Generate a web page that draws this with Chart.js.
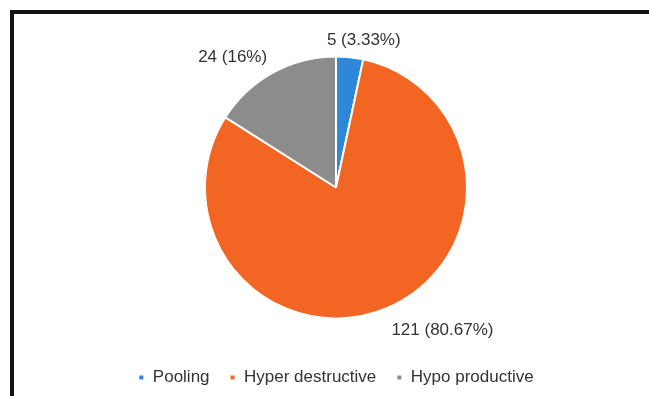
<!DOCTYPE html>
<html>
<head>
<meta charset="utf-8">
<script src="https://cdn.jsdelivr.net/npm/chart.js@4/dist/chart.umd.min.js"></script>
<style>
  html, body { margin: 0; padding: 0; background: #fff; }
  body { width: 649px; height: 396px; position: relative; overflow: hidden; }
  #frame {
    position: absolute; left: 10px; top: 10px; right: -10px; bottom: -10px;
    border-top: 4px solid #141414; border-left: 4px solid #141414;
  }
  #wrap { position: absolute; left: 14px; top: 14px; width: 635px; height: 382px; }
</style>
</head>
<body>
<div id="frame"></div>
<div id="wrap"><canvas id="pie"></canvas></div>
<script>
const categories = ['Pooling', 'Hyper destructive', 'Hypo productive'];
const counts = [5, 121, 24];
const colors = ['#2e88d8', '#f26522', '#8c8c8c'];

const total = counts.reduce((a, b) => a + b, 0);
const pct = (v) => +(v / total * 100).toFixed(2);

// value (percent) labels set just outside each slice
const outsideLabels = {
  id: 'outsideLabels',
  afterDatasetsDraw(chart, args, opts) {
    const ctx = chart.ctx;
    const meta = chart.getDatasetMeta(0);
    ctx.save();
    ctx.font = opts.font;
    ctx.fillStyle = opts.color;
    ctx.textBaseline = 'middle';
    ctx.textAlign = 'center';
    meta.data.forEach((arc, i) => {
      const v = counts[i];
      const text = `${v} (${pct(v)}%)`;
      const mid = (arc.startAngle + arc.endAngle) / 2;
      const r = arc.outerRadius + opts.pad;
      const sx = Math.cos(mid), sy = Math.sin(mid);
      const px = arc.x + sx * r;
      const py = arc.y + sy * r;
      const w = ctx.measureText(text).width;
      const h = opts.lineHeight;
      const kx = Math.abs(sx) < 0.3 ? sx / 0.3 : Math.sign(sx);
      const ky = Math.sign(sy);
      ctx.fillText(text, px + kx * w / 2, py + ky * h / 2 + opts.dy);
    });
    ctx.restore();
  }
};

new Chart(document.getElementById('pie'), {
  type: 'pie',
  data: {
    labels: categories,
    datasets: [{
      data: counts,
      backgroundColor: colors,
      borderColor: '#ffffff',
      borderWidth: 2,
      radius: 131,
    }],
  },
  options: {
    responsive: true,
    maintainAspectRatio: false,
    animation: false,
    layout: { padding: { left: 9, right: 0, top: 12, bottom: 0 } },
    plugins: {
      tooltip: { enabled: false },
      legend: {
        position: 'bottom',
        labels: {
          boxWidth: 6,
          boxHeight: 6,
          padding: 20,
          color: '#333333',
          font: { family: 'Liberation Sans, Arial, sans-serif', size: 17 },
        },
      },
      outsideLabels: {
        font: '17px "Liberation Sans", Arial, sans-serif',
        color: '#333333',
        pad: 12,
        lineHeight: 16,
        dy: 3,
      },
    },
  },
  plugins: [outsideLabels],
});
</script>
</body>
</html>
